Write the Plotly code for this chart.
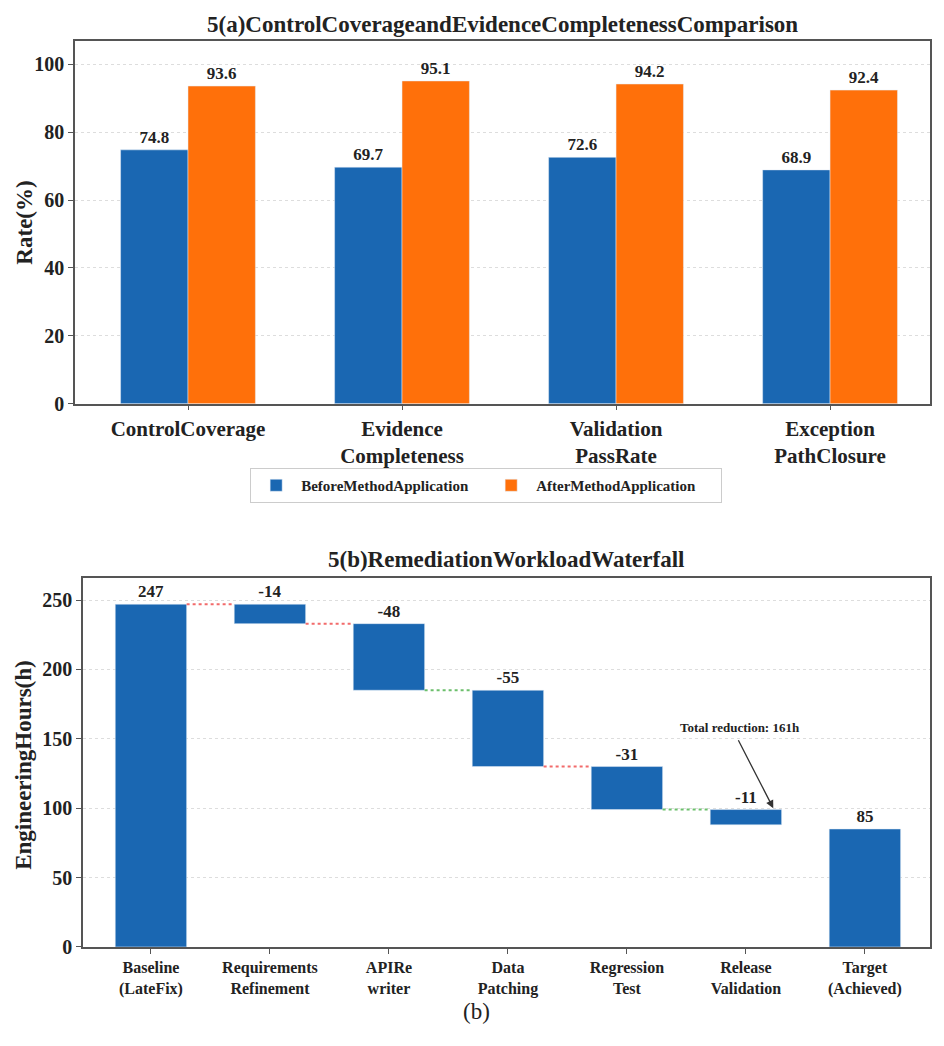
import plotly.graph_objects as go

# ---------------- data ----------------
metrics = ["ControlCoverage", "Evidence<br>Completeness", "Validation<br>PassRate", "Exception<br>PathClosure"]
before_vals = [74.8, 69.7, 72.6, 68.9]
after_vals = [93.6, 95.1, 94.2, 92.4]
series_names = ["BeforeMethodApplication", "AfterMethodApplication"]

steps = ["Baseline<br>(LateFix)", "Requirements<br>Refinement", "APIRe<br>writer", "Data<br>Patching",
         "Regression<br>Test", "Release<br>Validation", "Target<br>(Achieved)"]
baseline_hours = 247
step_changes = [-14, -48, -55, -31, -11]
target_hours = 85
connector_colors = ["#f26b6b", "#f26b6b", "#6cbf6c", "#f26b6b", "#6cbf6c"]
total_reduction_text = "Total reduction: 161h"

BLUE = "#1a67b2"
ORANGE = "#ff700a"
FONT = "Liberation Serif"
W, H = 944, 1046

fig = go.Figure()

# ---------------- panel (a) ----------------
xa = list(range(len(metrics)))
fig.add_trace(go.Bar(x=xa, y=before_vals, name=series_names[0], marker_color=BLUE,
                     text=[f"{v:.1f}" for v in before_vals], textposition="outside",
                     constraintext="none", cliponaxis=False,
                     textfont=dict(family=FONT, size=17, color="#222", weight="bold"),
                     xaxis="x", yaxis="y", offsetgroup="a1"))
fig.add_trace(go.Bar(x=xa, y=after_vals, name=series_names[1], marker_color=ORANGE,
                     text=[f"{v:.1f}" for v in after_vals], textposition="outside",
                     constraintext="none", cliponaxis=False,
                     textfont=dict(family=FONT, size=17, color="#222", weight="bold"),
                     xaxis="x", yaxis="y", offsetgroup="a2"))

# ---------------- panel (b) ----------------
xb = list(range(len(steps)))
cum = [baseline_hours]
for d in step_changes:
    cum.append(cum[-1] + d)
bases = [0] + cum[1:] + [0]
heights = [baseline_hours] + [-d for d in step_changes] + [target_hours]
labels = [str(baseline_hours)] + [str(d) for d in step_changes] + [str(target_hours)]
fig.add_trace(go.Bar(x=xb, y=heights, base=bases, marker_color=BLUE, width=0.6,
                     text=labels, textposition="outside", constraintext="none", cliponaxis=False,
                     textfont=dict(family=FONT, size=17, color="#222", weight="bold"),
                     showlegend=False, xaxis="x2", yaxis="y2"))
# connectors
for i, c in enumerate(connector_colors):
    fig.add_trace(go.Scatter(x=[i + 0.3, i + 0.7], y=[cum[i], cum[i]], mode="lines",
                             line=dict(color=c, width=2, dash="3px,3px"),
                             showlegend=False, hoverinfo="skip", xaxis="x2", yaxis="y2"))

axis_common = dict(showline=True, linecolor="#555", linewidth=1.5, mirror=True,
                   ticks="outside", ticklen=5, tickcolor="#555", zeroline=False)
tickfont_y = dict(family=FONT, size=20, color="#222", weight="bold")

fig.update_layout(
    width=W, height=H, margin=dict(l=0, r=0, t=0, b=0),
    paper_bgcolor="white", plot_bgcolor="white",
    barmode="group", bargap=0.37, bargroupgap=0,
    font=dict(family=FONT, color="#222"),
    xaxis=dict(domain=[75 / W, 930 / W], range=[-0.528, 3.467], tickvals=xa, ticktext=metrics,
               tickfont=dict(family=FONT, size=21, color="#222", weight="bold"),
               showgrid=False, anchor="y", **axis_common),
    yaxis=dict(domain=[1 - 408 / H, 1 - 41 / H], range=[0, 107], tickvals=[0, 20, 40, 60, 80, 100],
               tickfont=tickfont_y, showgrid=True, gridcolor="#dddddd", griddash="dot", gridwidth=1,
               anchor="x", **axis_common),
    xaxis2=dict(domain=[83 / W, 930 / W], range=[-0.571, 6.547], tickvals=xb, ticktext=steps,
                tickfont=dict(family=FONT, size=16, color="#222", weight="bold"),
                showgrid=False, anchor="y2", **axis_common),
    yaxis2=dict(domain=[1 - 957 / H, 1 - 584 / H], range=[0, 266], tickvals=[0, 50, 100, 150, 200, 250],
                tickfont=tickfont_y, showgrid=True, gridcolor="#dddddd", griddash="dot", gridwidth=1,
                anchor="x2", **axis_common),
    legend=dict(orientation="h", x=0.515, xanchor="center", y=1 - 473 / H, yanchor="top",
                bordercolor="#cccccc", borderwidth=1, bgcolor="white", entrywidth=180,
                itemwidth=40,
                font=dict(family=FONT, size=15, color="#222", weight="bold")),
)

annotations = [
    dict(text="5(a)ControlCoverageandEvidenceCompletenessComparison", x=502 / W, y=1 - 25 / H,
         xref="paper", yref="paper", showarrow=False, xanchor="center", yanchor="middle",
         font=dict(family=FONT, size=23, color="#222", weight="bold")),
    dict(text="5(b)RemediationWorkloadWaterfall", x=506 / W, y=1 - 565 / H,
         xref="paper", yref="paper", showarrow=False, xanchor="center", yanchor="middle",
         font=dict(family=FONT, size=23, color="#222", weight="bold")),
    dict(text="Rate(%)", x=25 / W, y=1 - 225 / H, xref="paper", yref="paper", showarrow=False,
         textangle=-90, xanchor="center", yanchor="middle",
         font=dict(family=FONT, size=23, color="#222", weight="bold")),
    dict(text="EngineeringHours(h)", x=24 / W, y=1 - 773 / H, xref="paper", yref="paper", showarrow=False,
         textangle=-90, xanchor="center", yanchor="middle",
         font=dict(family=FONT, size=23, color="#222", weight="bold")),
    dict(text="(b)", x=476 / W, y=1 - 1022 / H, xref="paper", yref="paper", showarrow=False,
         xanchor="center", yanchor="middle", font=dict(family=FONT, size=23, color="#222")),
    dict(text=total_reduction_text, x=4.95, y=158, xref="x2", yref="y2",
         showarrow=False,
         font=dict(family=FONT, size=13, color="#222", weight="bold")),
    dict(text="", x=5.23, y=100, xref="x2", yref="y2", ax=4.93, ay=150, axref="x2", ayref="y2",
         showarrow=True, arrowhead=2, arrowsize=1.2, arrowwidth=1.3, arrowcolor="#333"),
]
fig.update_layout(annotations=annotations)

fig.write_html("out.html")
